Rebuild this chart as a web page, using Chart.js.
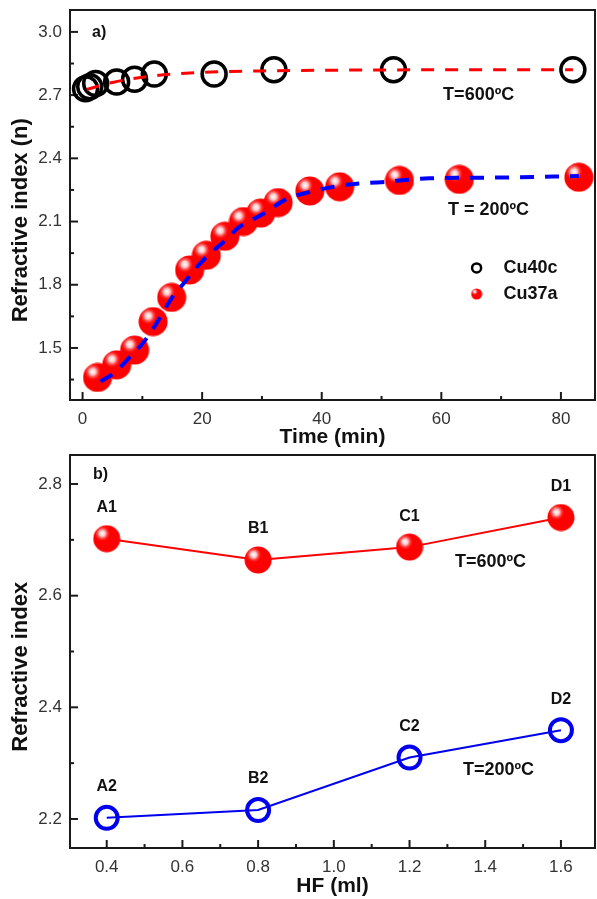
<!DOCTYPE html>
<html>
<head>
<meta charset="utf-8">
<script src="https://cdn.jsdelivr.net/npm/chart.js@4.4.1/dist/chart.umd.min.js"></script>
<style>
  html, body { margin: 0; padding: 0; background: #fff; }
  canvas { display: block; }
</style>
</head>
<body>
<canvas id="chart-time" width="597" height="450"></canvas>
<canvas id="chart-hf" width="597" height="449"></canvas>
<script>
// a) refractive index vs time
const time600 = [0.5, 1.2, 2.2, 5.7, 8.7, 12, 22, 32, 52, 82];
const n600 = [2.73, 2.74, 2.755, 2.762, 2.775, 2.80, 2.80, 2.82, 2.82, 2.82];
const fitTime600 = [0.7, 5, 10, 15, 20, 30, 40, 60, 82];
const fitN600 = [2.727, 2.76, 2.785, 2.80, 2.808, 2.815, 2.818, 2.82, 2.82];

const time200 = [2.5, 5.7, 8.7, 11.8, 14.9, 17.9, 20.7, 23.8, 26.9, 29.8, 32.7, 38, 43, 53, 63, 83];
const n200 = [1.36, 1.42, 1.49, 1.625, 1.74, 1.87, 1.94, 2.03, 2.10, 2.14, 2.19, 2.245, 2.265, 2.295, 2.30, 2.31];
const fitTime200 = [3, 5.5, 8, 10, 12, 15, 17, 19, 21, 24, 26, 28.5, 31, 34, 38.5, 44.5, 50, 58, 67.5, 83];
const fitN200 = [1.34, 1.387, 1.46, 1.52, 1.60, 1.74, 1.81, 1.88, 1.94, 2.014, 2.07, 2.11, 2.15, 2.205, 2.244, 2.276, 2.287, 2.305, 2.308, 2.316];

const timeTicks = [0, 20, 40, 60, 80];
const timeMinor = [10, 30, 50, 70];
const nTicksA = [1.5, 1.8, 2.1, 2.4, 2.7, 3.0];
const nMinorA = [1.35, 1.65, 1.95, 2.25, 2.55, 2.85];

// b) refractive index vs HF
const hf = [0.4, 0.8, 1.2, 1.6];
const nHF600 = [2.702, 2.664, 2.687, 2.74];
const nHF200 = [2.202, 2.216, 2.31, 2.359];
const hfLabels600 = ['A1', 'B1', 'C1', 'D1'];
const hfLabels200 = ['A2', 'B2', 'C2', 'D2'];

const hfTicks = [0.4, 0.6, 0.8, 1.0, 1.2, 1.4, 1.6];
const hfMinor = [0.5, 0.7, 0.9, 1.1, 1.3, 1.5];
const nTicksB = [2.2, 2.4, 2.6, 2.8];
const nMinorB = [2.3, 2.5, 2.7];

const FONT = "'Liberation Sans', Arial, sans-serif";
Chart.defaults.font.family = FONT;

function makeSphere(r) {
  const c = document.createElement('canvas');
  c.width = c.height = 2 * r;
  const g = c.getContext('2d');
  g.beginPath();
  g.arc(r, r, r - 0.5, 0, Math.PI * 2);
  g.fillStyle = '#ff0000';
  g.fill();
  const grad = g.createRadialGradient(r * 0.68, r * 0.62, 0, r * 0.68, r * 0.62, r * 0.6);
  grad.addColorStop(0, 'rgba(255,255,255,1)');
  grad.addColorStop(0.35, 'rgba(255,220,220,0.9)');
  grad.addColorStop(1, 'rgba(255,0,0,0)');
  g.fillStyle = grad;
  g.fill();
  return c;
}

const sphereBig = makeSphere(15);
const sphereMid = makeSphere(14);
const sphereSmall = makeSphere(6);

// ticks drawn inward, plus a closed frame
const axisTicks = {
  id: 'axisTicks',
  beforeDatasetsDraw(chart, args, opts) {
    const { ctx, chartArea: a, scales: { x, y } } = chart;
    ctx.save();
    ctx.strokeStyle = '#1a1a1a';
    ctx.lineWidth = 2;
    ctx.strokeRect(a.left, a.top, a.right - a.left, a.bottom - a.top);
    const mark = (scale, values, len) => {
      values.forEach(v => {
        const p = scale.getPixelForValue(v);
        ctx.beginPath();
        if (scale.axis === 'x') {
          ctx.moveTo(p, a.bottom);
          ctx.lineTo(p, a.bottom - len);
        } else {
          ctx.moveTo(a.left, p);
          ctx.lineTo(a.left + len, p);
        }
        ctx.stroke();
      });
    };
    mark(x, opts.xMajor, 8);
    mark(x, opts.xMinor, 4);
    mark(y, opts.yMajor, 8);
    mark(y, opts.yMinor, 4);
    ctx.restore();
  }
};

// panel letters, temperature notes, point labels and the inside legend
const notes = {
  id: 'notes',
  afterDatasetsDraw(chart, args, opts) {
    const { ctx, chartArea: a, scales: { x, y } } = chart;
    ctx.save();
    ctx.textBaseline = 'middle';
    ctx.textAlign = 'left';
    ctx.fillStyle = '#111';
    (opts.panel || []).forEach(p => {
      ctx.font = 'bold 16px ' + FONT;
      ctx.fillText(p.text, a.left + p.left, a.top + p.top);
    });
    (opts.items || []).forEach(it => {
      ctx.font = 'bold 18px ' + FONT;
      ctx.fillText(it.text, x.getPixelForValue(it.x), y.getPixelForValue(it.y));
    });
    ctx.textAlign = 'center';
    (opts.pointLabels || []).forEach(pl => {
      ctx.font = 'bold 16px ' + FONT;
      chart.getDatasetMeta(pl.dataset).data.forEach((el, i) => {
        ctx.fillText(pl.labels[i], el.x, el.y - 31);
      });
    });
    ctx.textAlign = 'left';
    (opts.legend || []).forEach(lg => {
      const px = x.getPixelForValue(lg.x);
      const py = y.getPixelForValue(lg.y);
      if (lg.marker === 'ring') {
        ctx.beginPath();
        ctx.arc(px, py, 4.5, 0, Math.PI * 2);
        ctx.strokeStyle = '#000';
        ctx.lineWidth = 2.5;
        ctx.stroke();
      } else {
        ctx.drawImage(sphereSmall, px - 6, py - 6);
      }
      ctx.font = 'bold 18px ' + FONT;
      ctx.fillStyle = '#111';
      ctx.fillText(chart.data.datasets[lg.dataset].label, px + 27, py);
    });
    ctx.restore();
  }
};

function axes(xRange, yRange, xMajor, yMajor, xTitle, yTitle, xDigits, xHeight) {
  return {
    x: {
      type: 'linear',
      min: xRange[0],
      max: xRange[1],
      afterBuildTicks: s => { s.ticks = xMajor.map(v => ({ value: v })); },
      afterFit: s => { s.height = xHeight; s.paddingLeft = 0; s.paddingRight = 0; },
      grid: { display: false, drawTicks: false },
      border: { display: false },
      ticks: {
        padding: 9,
        color: '#333',
        font: { size: 17 },
        maxRotation: 0,
        callback: v => v.toFixed(xDigits)
      },
      title: {
        display: true,
        text: xTitle,
        color: '#111',
        font: { size: 21, weight: 'bold' },
        padding: 0
      }
    },
    y: {
      type: 'linear',
      min: yRange[0],
      max: yRange[1],
      afterBuildTicks: s => { s.ticks = yMajor.map(v => ({ value: v })); },
      afterFit: s => { s.width = 70; s.paddingTop = 0; s.paddingBottom = 0; },
      grid: { display: false, drawTicks: false },
      border: { display: false },
      ticks: {
        padding: 8,
        color: '#333',
        font: { size: 17 },
        callback: v => v.toFixed(1)
      },
      title: {
        display: true,
        text: yTitle,
        color: '#111',
        font: { size: 22, weight: 'bold' },
        padding: { top: 8, bottom: 0 }
      }
    }
  };
}

const pts = (xs, ys) => xs.map((v, i) => ({ x: v, y: ys[i] }));

new Chart(document.getElementById('chart-time'), {
  type: 'scatter',
  data: {
    datasets: [
      {
        label: 'fit 600',
        data: pts(fitTime600, fitN600),
        showLine: true,
        borderColor: '#ff0000',
        borderWidth: 3,
        borderDash: [13, 11],
        cubicInterpolationMode: 'monotone',
        pointRadius: 0,
        order: 0
      },
      {
        label: 'fit 200',
        data: pts(fitTime200, fitN200),
        showLine: true,
        borderColor: '#0000ff',
        borderWidth: 4,
        borderDash: [14, 11],
        cubicInterpolationMode: 'monotone',
        pointRadius: 0,
        order: 0
      },
      {
        label: 'Cu40c',
        data: pts(time600, n600),
        pointStyle: 'circle',
        pointRadius: 12,
        borderWidth: 3.5,
        borderColor: '#000',
        backgroundColor: 'rgba(0,0,0,0)',
        order: 2
      },
      {
        label: 'Cu37a',
        data: pts(time200, n200),
        pointStyle: sphereBig,
        pointRadius: 15,
        order: 1
      }
    ]
  },
  options: {
    responsive: false,
    animation: false,
    events: [],
    clip: false,
    layout: { autoPadding: false, padding: { top: 10, right: 2, left: 0, bottom: 0 } },
    scales: axes([-2.1, 85.7], [1.253, 3.104], timeTicks, nTicksA,
      'Time (min)', 'Refractive index (n)     ', 0, 50),
    plugins: {
      legend: { display: false },
      tooltip: { enabled: false },
      axisTicks: { xMajor: timeTicks, xMinor: timeMinor, yMajor: nTicksA, yMinor: nMinorA },
      notes: {
        panel: [{ text: 'a)', left: 22, top: 23 }],
        items: [
          { text: 'T=600ºC', x: 60.3, y: 2.70 },
          { text: 'T = 200ºC', x: 61.1, y: 2.155 }
        ],
        legend: [
          { dataset: 2, marker: 'ring', x: 65.9, y: 1.88 },
          { dataset: 3, marker: 'sphere', x: 65.9, y: 1.756 }
        ]
      }
    }
  },
  plugins: [axisTicks, notes]
});

new Chart(document.getElementById('chart-hf'), {
  type: 'scatter',
  data: {
    datasets: [
      {
        label: 'T=600ºC',
        data: pts(hf, nHF600),
        showLine: true,
        borderColor: '#ff0000',
        borderWidth: 2,
        pointStyle: sphereMid,
        pointRadius: 14
      },
      {
        label: 'T=200ºC',
        data: pts(hf, nHF200),
        showLine: true,
        borderColor: '#0000ee',
        borderWidth: 2,
        pointStyle: 'circle',
        pointRadius: 11,
        pointBorderWidth: 4,
        pointBorderColor: '#0000ee',
        pointBackgroundColor: 'rgba(0,0,0,0)'
      }
    ]
  },
  options: {
    responsive: false,
    animation: false,
    events: [],
    clip: false,
    layout: { autoPadding: false, padding: { top: 5, right: 2, left: 0, bottom: 0 } },
    scales: axes([0.303, 1.69], [2.148, 2.852], hfTicks, nTicksB,
      'HF (ml)', 'Refractive index     ', 1, 51),
    plugins: {
      legend: { display: false },
      tooltip: { enabled: false },
      axisTicks: { xMajor: hfTicks, xMinor: hfMinor, yMajor: nTicksB, yMinor: nMinorB },
      notes: {
        panel: [{ text: 'b)', left: 23, top: 20 }],
        items: [
          { text: 'T=600ºC', x: 1.32, y: 2.661 },
          { text: 'T=200ºC', x: 1.341, y: 2.288 }
        ],
        pointLabels: [
          { dataset: 0, labels: hfLabels600 },
          { dataset: 1, labels: hfLabels200 }
        ]
      }
    }
  },
  plugins: [axisTicks, notes]
});
</script>
</body>
</html>
